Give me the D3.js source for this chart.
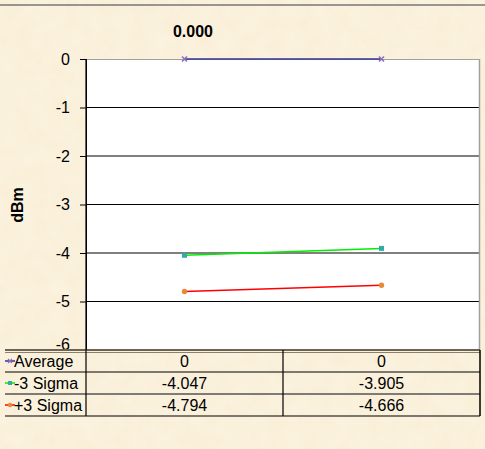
<!DOCTYPE html>
<html><head><meta charset="utf-8">
<script src="https://cdn.jsdelivr.net/npm/d3@7"></script>
<style>
html,body{margin:0;padding:0;background:#fbf1dc;}
svg{display:block;font-family:Arial,"Liberation Sans",sans-serif;}
</style></head><body>
<svg id="c" width="485" height="449"></svg>
<script>
const categories = ["1", "2"];
const seriesNames = ["Average", "-3 Sigma", "+3 Sigma"];
const averageVals = [0, 0];
const minus3SigmaVals = [-4.047, -3.905];
const plus3SigmaVals = [-4.794, -4.666];
const tableLabels = [["0","0"],["-4.047","-3.905"],["-4.794","-4.666"]];
const yTicks = [0, -1, -2, -3, -4, -5, -6];
const title = "0.000";
const yLabel = "dBm";

const svg = d3.select("#c");
const defs = svg.append("defs");
const filt = defs.append("filter").attr("id","tex");
filt.append("feTurbulence").attr("type","fractalNoise").attr("baseFrequency","0.06").attr("numOctaves","3").attr("seed","4");
filt.append("feColorMatrix").attr("values","0 0 0 0 0.99  0 0 0 0 0.95  0 0 0 0 0.85  0 0 0 0.6 0");
svg.append("rect").attr("width",485).attr("height",449).attr("fill","#f9eed6");
svg.append("rect").attr("width",485).attr("height",449).attr("filter","url(#tex)").attr("opacity",0.8);
svg.append("line").attr("x1",0).attr("x2",485).attr("y1",5).attr("y2",5).attr("stroke","#777").attr("stroke-width",1.5);

const L = 86, R = 480, T = 59, B = 350;
const y = d3.scaleLinear().domain([-6, 0]).range([B, T]);
const x = d3.scaleBand().domain(categories).range([L, R]);
const cx = d => x(d) + x.bandwidth()/2;
const FS = 16;

svg.append("rect").attr("x",L).attr("y",T).attr("width",R-L).attr("height",B-T).attr("fill","#fff");
svg.append("g").selectAll("line").data(yTicks.filter(t=>t!==0 && t!==-6)).join("line")
  .attr("x1",L).attr("x2",R).attr("y1",d=>y(d)).attr("y2",d=>y(d)).attr("stroke","#000").attr("stroke-width",1);
svg.append("line").attr("x1",L).attr("x2",R).attr("y1",T+0.5).attr("y2",T+0.5).attr("stroke","#a0a0a0");
svg.append("line").attr("x1",R-0.5).attr("x2",R-0.5).attr("y1",T).attr("y2",B).attr("stroke","#a0a0a0").attr("stroke-width",1.5);

const yAxis = d3.axisLeft(y).tickValues(yTicks).tickSize(6).tickPadding(10).tickFormat(d=>String(d));
const ga = svg.append("g").attr("transform",`translate(${L},0)`).call(yAxis);
ga.select(".domain").attr("stroke","#000");
ga.selectAll(".tick line").attr("stroke","#000");
ga.selectAll("text").attr("font-size",FS).attr("fill","#000").attr("font-family","Arial,'Liberation Sans',sans-serif")
  .attr("dy", d => d === -6 ? "-0.05em" : "0.32em");

svg.append("text").attr("x",193).attr("y",37).attr("text-anchor","middle").attr("font-weight","bold").attr("font-size",FS).text(title);
svg.append("text").attr("transform","translate(23,205) rotate(-90)").attr("text-anchor","middle").attr("font-weight","bold").attr("font-size",FS).text(yLabel);

const series = [
  {name: seriesNames[0], vals: averageVals, color:"#333399", mcolor:"#8a6fc0", marker:"x"},
  {name: seriesNames[1], vals: minus3SigmaVals, color:"#00ee00", mcolor:"#33aaaa", marker:"sq"},
  {name: seriesNames[2], vals: plus3SigmaVals, color:"#ff0000", mcolor:"#e68a3a", marker:"c"}
];
const line = d3.line().x((d,i)=>cx(categories[i])).y(d=>y(d));
series.forEach(s=>{
  svg.append("path").datum(s.vals).attr("d",line).attr("fill","none").attr("stroke",s.color).attr("stroke-width",1.5);
  s.vals.forEach((v,i)=>{
    const px = cx(categories[i]), py = y(v);
    if(s.marker==="c") svg.append("circle").attr("cx",px).attr("cy",py).attr("r",2.7).attr("fill",s.mcolor);
    else if(s.marker==="sq") svg.append("rect").attr("x",px-2.5).attr("y",py-2.5).attr("width",5).attr("height",5).attr("fill",s.mcolor);
    else svg.append("path").attr("d",`M${px-2.5},${py-2.5}L${px+2.5},${py+2.5}M${px-2.5},${py+2.5}L${px+2.5},${py-2.5}`).attr("stroke",s.mcolor).attr("stroke-width",1.5);
  });
});

const tL = 5, rowH = 22, tT = B;
const tb = svg.append("g");
tb.append("line").attr("x1",tL).attr("x2",R).attr("y1",tT).attr("y2",tT).attr("stroke","#6b6354").attr("stroke-width",2);
tb.append("line").attr("x1",tL).attr("x2",R).attr("y1",tT+2.5).attr("y2",tT+2.5).attr("stroke","#8a8070").attr("stroke-width",1);
[1,2,3].forEach(i=>{
  tb.append("line").attr("x1",tL).attr("x2",R).attr("y1",tT+i*rowH).attr("y2",tT+i*rowH).attr("stroke",i===2?"#555":"#000").attr("stroke-width",i===2?1.5:1.2);
});
[L, x(categories[1]), R].forEach((xx,i)=>{
  tb.append("line").attr("x1",xx).attr("x2",xx).attr("y1",i===0?T:tT).attr("y2",tT+3*rowH).attr("stroke","#000").attr("stroke-width",i===2?1.5:1.2);
});
series.forEach((s,r)=>{
  const yy = tT + r*rowH + rowH/2;
  tb.append("line").attr("x1",tL).attr("x2",tL+10).attr("y1",yy).attr("y2",yy).attr("stroke",s.color).attr("stroke-width",1.5);
  if(s.marker==="c") tb.append("circle").attr("cx",tL+5).attr("cy",yy).attr("r",2.2).attr("fill",s.mcolor);
  else if(s.marker==="sq") tb.append("rect").attr("x",tL+3).attr("y",yy-2).attr("width",4).attr("height",4).attr("fill",s.mcolor);
  else tb.append("path").attr("d",`M${tL+3},${yy-2}L${tL+7},${yy+2}M${tL+3},${yy+2}L${tL+7},${yy-2}`).attr("stroke",s.mcolor).attr("stroke-width",1.2);
  tb.append("text").attr("x",tL+9).attr("y",yy+6).attr("font-size",FS).text(s.name);
  categories.forEach((c,j)=>{
    tb.append("text").attr("x",cx(c)).attr("y",yy+6).attr("text-anchor","middle").attr("font-size",FS).text(tableLabels[r][j]);
  });
});
</script>
</body></html>
